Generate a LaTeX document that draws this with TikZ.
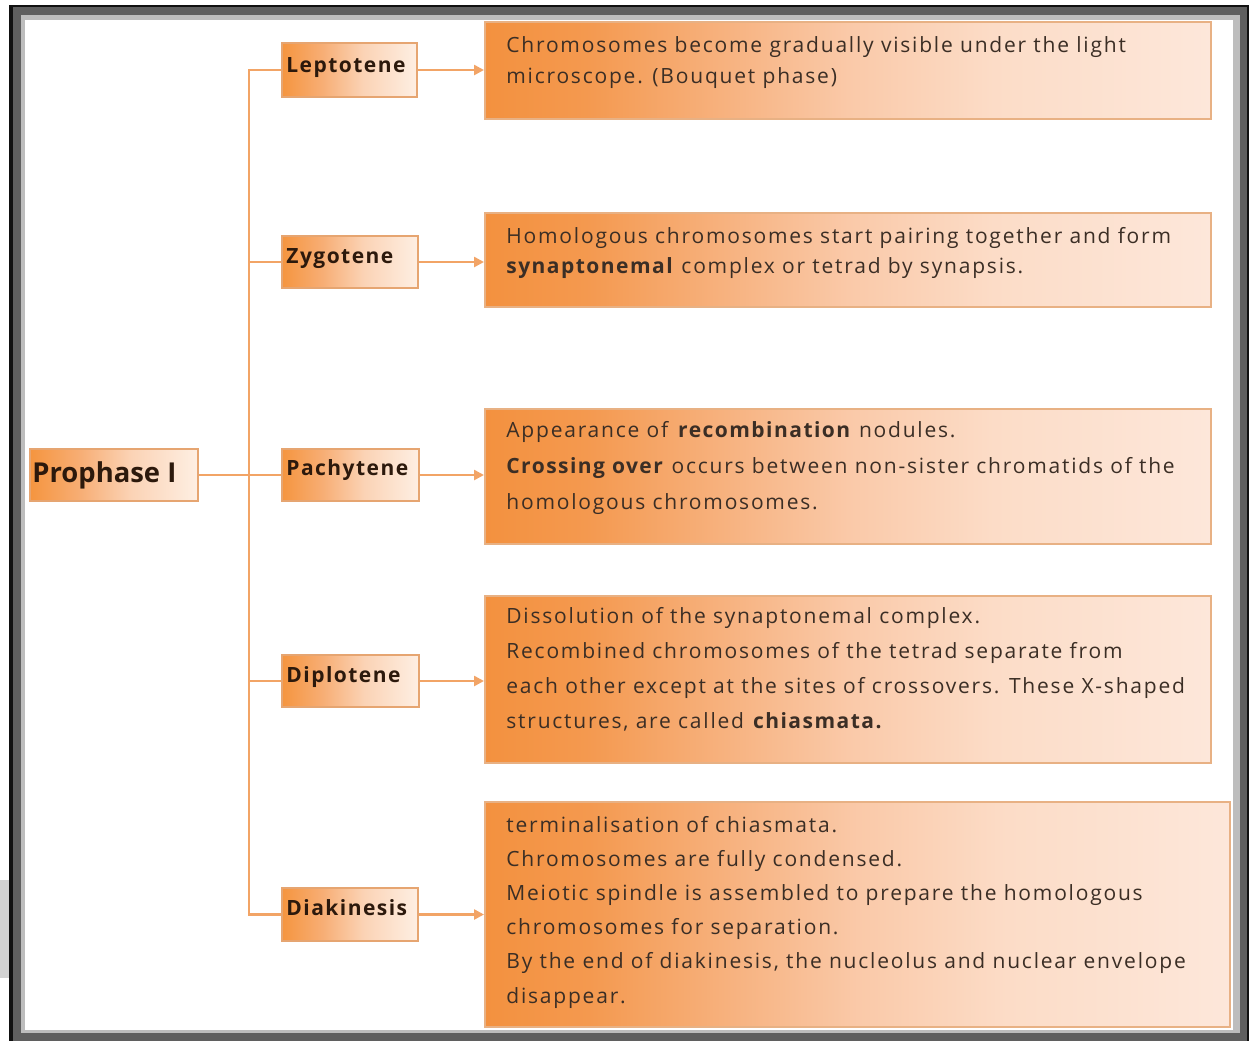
\documentclass[tikz,border=0pt]{standalone}
\usepackage{fontspec}
\setmainfont{Open Sans}[LetterSpace=8.5, BoldFeatures={LetterSpace=7}]
\newfontfamily\titlesans{Open Sans}
\usetikzlibrary{arrows.meta,fit}

% palette
\definecolor{frameblack}{HTML}{111111}
\definecolor{framedark}{HTML}{5F5F5F}
\definecolor{framelight}{HTML}{BDBDBD}
\definecolor{ghost}{HTML}{D2D2D2}
\definecolor{linkorange}{HTML}{F2A466}
\definecolor{descedge}{HTML}{E8B184}
\definecolor{stageedge}{HTML}{E6A571}
\definecolor{ink}{HTML}{3B2E25}
\definecolor{labelink}{HTML}{2C190C}

% left-to-right fades (stops live between 25bp and 75bp)
\pgfdeclarehorizontalshading{descfade}{100bp}{%
  rgb(0bp)=(0.953,0.569,0.247); rgb(25bp)=(0.953,0.569,0.247);
  rgb(32bp)=(0.957,0.600,0.310); rgb(42bp)=(0.969,0.702,0.506);
  rgb(50bp)=(0.980,0.788,0.659); rgb(60bp)=(0.988,0.863,0.780);
  rgb(75bp)=(0.992,0.906,0.855); rgb(100bp)=(0.992,0.906,0.855)}
\pgfdeclarehorizontalshading{stagefade}{100bp}{%
  rgb(0bp)=(0.961,0.584,0.247); rgb(25bp)=(0.961,0.584,0.247);
  rgb(40bp)=(0.969,0.682,0.459); rgb(55bp)=(0.984,0.827,0.710);
  rgb(75bp)=(0.996,0.937,0.890); rgb(100bp)=(0.996,0.937,0.890)}

% lines of a panel, with the first line's baseline as the node's base
\newcommand{\panellines}[1]{\begin{tabular}[t]{@{}l@{}}#1\end{tabular}}

\tikzset{
  descbox/.style={draw=descedge, line width=1pt, shading=descfade, inner sep=0pt},
  stagebox/.style={draw=stageedge, line width=1pt, shading=stagefade, inner sep=0pt},
  stagelabel/.style={anchor=base west, inner sep=0pt, text=labelink,
    font={\fontsize{10.5}{12}\selectfont\bfseries}},
  desctext/.style={anchor=base west, inner sep=0pt, text=ink},
  link/.style={draw=linkorange, line width=1.3pt},
  arrowlink/.style={link, -{Triangle[length=5pt,width=5pt]}},
}

\begin{document}
\begin{tikzpicture}[x=0.5pt, y=-0.5pt]
  \useasboundingbox (0,0) rectangle (1255,1041);
  \fill[white] (0,0) rectangle (1255,1041);

  % page frame
  \fill[ghost] (0,880) rectangle (10,978);
  \fill[frameblack] (9,5) rectangle (1249,1041);
  \fill[framedark] (13,7) rectangle (1247,1041);
  \fill[framelight] (21,15) rectangle (1240,1033);
  \fill[white] (25,20) rectangle (1233,1030);

  % root and stages
  \node[stagebox, fit={(30,449) (198,501)}] (pro) {};
  \node[stagebox, fit={(282,43) (417,97)}] (lep) {};
  \node[stagebox, fit={(282,236) (418,288)}] (zyg) {};
  \node[stagebox, fit={(282,449) (419,501)}] (pac) {};
  \node[stagebox, fit={(282,655) (419,707)}] (dip) {};
  \node[stagebox, fit={(282,888) (418,941)}] (dia) {};

  \node[stagelabel, font={\titlesans\fontsize{13.7}{16}\selectfont\bfseries}]
    (proT) at ([xshift=1.5pt,yshift=-3.5pt]pro.west) {Prophase I};
  \node[stagelabel] (lepT) at ([xshift=2.5pt,yshift=-1pt]lep.west) {Leptotene};
  \node[stagelabel] (zygT) at ([xshift=2.5pt,yshift=-0.5pt]zyg.west) {Zygotene};
  \node[stagelabel] (pacT) at ([xshift=2.5pt,yshift=0pt]pac.west) {Pachytene};
  \node[stagelabel] (dipT) at ([xshift=2.5pt,yshift=-0.5pt]dip.west) {Diplotene};
  \node[stagelabel] (diaT) at ([xshift=2.5pt,yshift=-0.5pt]dia.west) {Diakinesis};

  % description panels
  \node[descbox, fit={(485,22) (1211,119)}] (d1) {};
  \node[descbox, fit={(485,213) (1211,307)}] (d2) {};
  \node[descbox, fit={(485,409) (1211,544)}] (d3) {};
  \node[descbox, fit={(485,596) (1211,763)}] (d4) {};
  \node[descbox, fit={(485,802) (1230,1027)}] (d5) {};

  \node[desctext, font={\fontsize{10.5}{15.5}\selectfont}] (t1) at (506,52)
    {\panellines{Chromosomes become gradually visible under the light\\
     microscope. (Bouquet phase)}};
  \node[desctext, font={\fontsize{10.5}{15}\selectfont}] (t2) at (506,243)
    {\panellines{Homologous chromosomes start pairing together and form\\
     \textbf{synaptonemal} complex or tetrad by synapsis.}};
  \node[desctext, font={\fontsize{10.5}{18}\selectfont}] (t3) at (506,437)
    {\panellines{Appearance of \textbf{recombination} nodules.\\
     \textbf{Crossing over} occurs between non-sister chromatids of the\\
     homologous chromosomes.}};
  \node[desctext, font={\fontsize{10.5}{17.5}\selectfont}] (t4) at (506,623)
    {\panellines{Dissolution of the synaptonemal complex.\\
     Recombined chromosomes of the tetrad separate from\\
     each other except at the sites of crossovers. These X-shaped\\
     structures, are called \textbf{chiasmata.}}};
  \node[desctext, font={\fontsize{10.5}{17.1}\selectfont}] (t5) at (506,832)
    {\panellines{terminalisation of chiasmata.\\
     Chromosomes are fully condensed.\\
     Meiotic spindle is assembled to prepare the homologous\\
     chromosomes for separation.\\
     By the end of diakinesis, the nucleolus and nuclear envelope\\
     disappear.}};

  % tree connectors
  \coordinate (trunk) at (249,0);
  \draw[link] (lep.west) -| (trunk |- dia.west) -- (dia.west);
  \draw[link] (zyg.west) -- (zyg.west -| trunk);
  \draw[link] (dip.west) -- (dip.west -| trunk);
  \draw[link] (pro.east) -- (pac.west);

  % stage-to-description arrows
  \draw[arrowlink] (lep.east) -- (lep.east -| d1.west);
  \draw[arrowlink] (zyg.east) -- (zyg.east -| d2.west);
  \draw[arrowlink] (pac.east) -- (pac.east -| d3.west);
  \draw[arrowlink] (dip.east) -- (dip.east -| d4.west);
  \draw[arrowlink] (dia.east) -- (dia.east -| d5.west);
\end{tikzpicture}
\end{document}
